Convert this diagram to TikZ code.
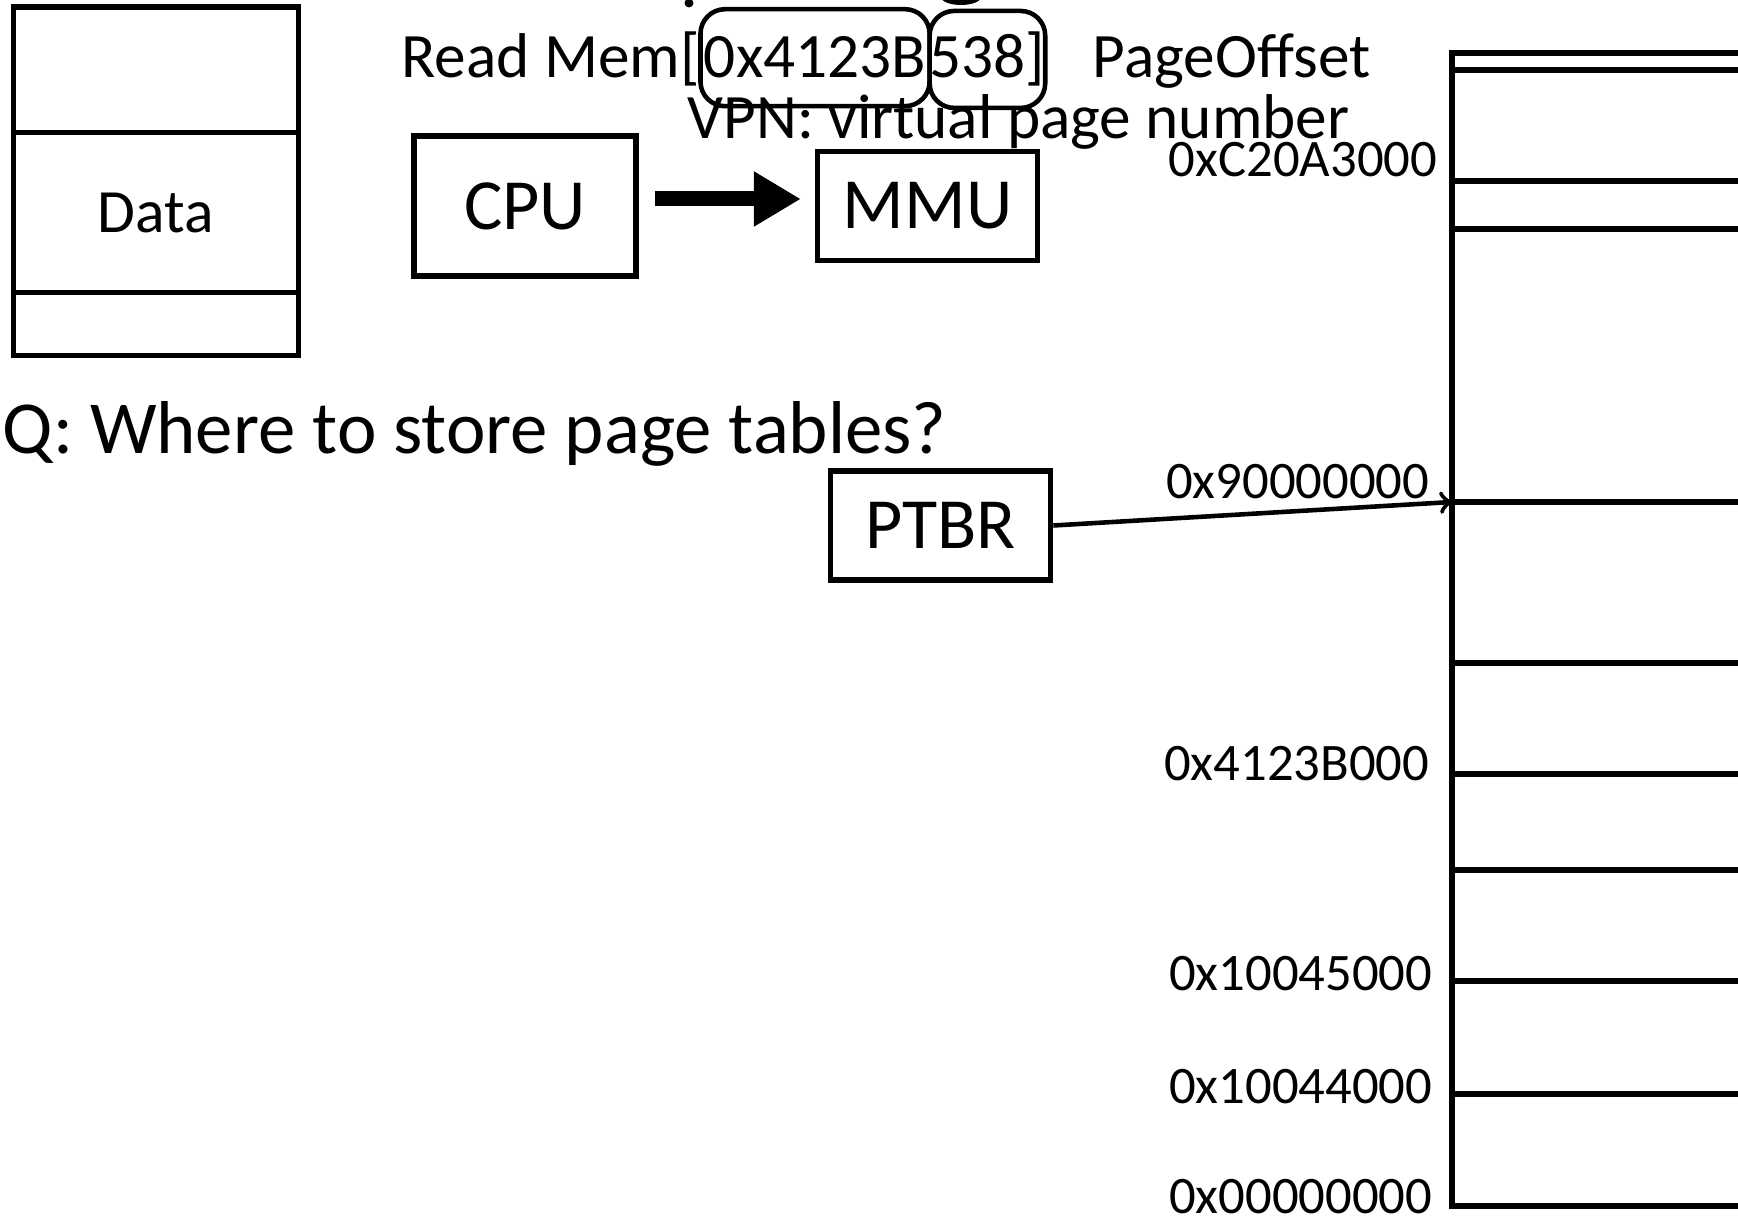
\documentclass[tikz,border=0pt]{standalone}
\usepackage{fontspec}
\setmainfont{Carlito}
\usetikzlibrary{arrows, arrows.meta, positioning}

\begin{document}
\begin{tikzpicture}[node distance=0.5cm,>=to,
  unitbox/.style={rectangle, draw, line width=1.6pt, minimum width=2.2cm, minimum height=1.09cm, font=\fontsize{20.5}{24}\selectfont},
  stackbox/.style={rectangle, draw, line width=1.6pt, outer sep=0pt, minimum width=2.85cm},
  addrpart/.style={rectangle, rounded corners=7pt, draw, line width=1.3pt, outer sep=0pt, inner xsep=1pt, minimum height=0.97cm, font=\fontsize{18}{21}\selectfont},
  bigtext/.style={anchor=base west, inner sep=0pt, font=\fontsize{18}{21}\selectfont},
  addrlabel/.style={anchor=base east, inner sep=0pt, font=\fontsize{15}{18}\selectfont},
  memline/.style={line width=1.6pt}]

\useasboundingbox (0,0) rectangle (17.38,-12.19);
\clip (0,0) rectangle (17.38,-12.19);

% Stack
\node[stackbox, minimum height=1.255cm, anchor=north west] (stacktop) at (0.135,-0.07) {};
\node[stackbox, minimum height=1.60cm, below=0cm of stacktop, font=\fontsize{17.5}{21}\selectfont] (stackdata) {Data};
\node[stackbox, minimum height=0.63cm, below=0cm of stackdata] (stackbot) {};

% Address being read
\node[bigtext] (readmem) at (4.01,-0.78) {Read Mem[};
\node[addrpart, anchor=base west] (vpnpart) at (readmem.base east) {0x4123B};
\node[addrpart, anchor=base west, inner xsep=0pt] (offpart) at (vpnpart.base east) {538]};
\node[bigtext, xshift=0.47cm] (pageoffset) at (offpart.base east) {PageOffset};
\node[bigtext] (vpnlabel) at (6.87,-1.39) {VPN: virtual page number};

% Cut off marks at the top
\fill (6.89,-0.03) circle (0.045);
\fill (9.61,0.03) ellipse (0.2 and 0.08);

% CPU and MMU
\node[unitbox, minimum width=2.22cm, minimum height=1.40cm] (cpu) at (5.25,-2.06) {CPU};
\node[unitbox, right=1.76cm of cpu] (mmu) {MMU};
\draw[-{Triangle[length=0.47cm,width=0.52cm]}, line width=0.15cm, shorten <=0.16cm, shorten >=0.14cm] ([yshift=0.07cm]cpu.east) -- ([yshift=0.07cm]mmu.west);

% Question
\node[anchor=base west, inner sep=0pt, font=\fontsize{21.3}{25}\selectfont] (question) at (0.02,-4.54) {Q: Where to store page tables?};

% Physical memory
\draw[memline, line cap=rect] (14.52,-0.53) -- (14.52,-12.06);
\foreach \y in {0.53,0.70,1.81,2.29,5.02,6.63,7.74,8.70,9.81,10.94,12.06}
  \draw[memline] (14.52,-\y) -- (17.5,-\y);
\coordinate (mem90) at (14.52,-5.02);

% Page table base register
\node[unitbox] (ptbr) at (9.405,-5.255) {PTBR};
\draw[->, line width=1.3pt] (ptbr.east) -- (mem90);

% Addresses
\node[addrlabel] (addrC2) at (14.38,-1.77) {0xC20A3000};
\node[addrlabel] (addr90) at (14.30,-4.99) {0x90000000};
\node[addrlabel] (addr41) at (14.30,-7.81) {0x4123B000};
\node[addrlabel] (addr45) at (14.33,-9.90) {0x10045000};
\node[addrlabel] (addr44) at (14.33,-11.03) {0x10044000};
\node[addrlabel] (addr00) at (14.33,-12.13) {0x00000000};
\end{tikzpicture}
\end{document}
